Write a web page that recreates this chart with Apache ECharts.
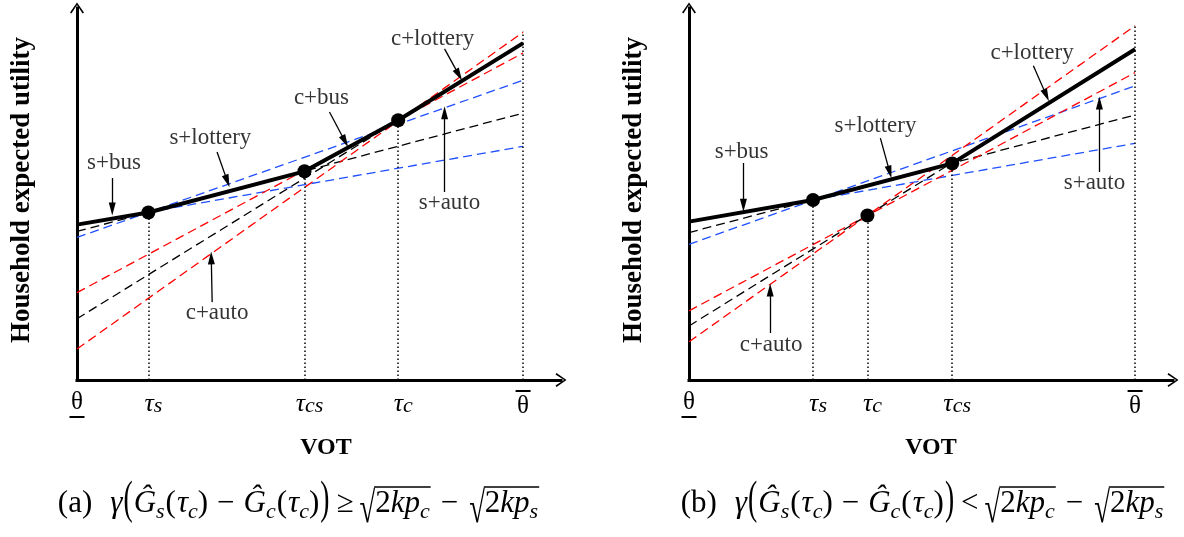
<!DOCTYPE html>
<html>
<head>
<meta charset="utf-8">
<script src="https://cdn.jsdelivr.net/npm/echarts@6/dist/echarts.min.js"></script>
<style>html,body{margin:0;padding:0;background:#fff}#main{width:1184px;height:537px}</style>
</head>
<body>
<div id="main"></div>
<script>
var FONT = '"Liberation Serif", "Times New Roman", serif';
var RED = '#ff0000', BLUE = '#1f4fff', BLACK = '#000000';

// utility of each option at θ (x=0) and at θ‾ (x=100)
var optionNames = ['s+bus', 's+lottery', 's+auto', 'c+bus', 'c+lottery', 'c+auto'];
var optionColors = [BLUE, BLACK, BLUE, RED, BLACK, RED];
var startA = [41.1, 39.3, 37.7, 23.1, 16.2, 8.2];
var endA = [61.8, 70.6, 79.3, 86.5, 89.1, 92.0];
var startB = [41.9, 39.0, 35.9, 18.3, 14.3, 10.1];
var endB = [62.6, 70.1, 77.8, 81.3, 87.5, 93.7];

// upper envelope (thick line)
var envXA = [0, 16, 51, 72, 100];
var envYA = [41.1, 44.3, 55.2, 68.7, 89.1];
var envXB = [0, 27.8, 59, 100];
var envYB = [41.9, 47.6, 57.3, 87.5];

// switching points
var dotXA = [16, 51, 72];
var dotYA = [44.3, 55.2, 68.7];
var dotXB = [27.8, 40, 59];
var dotYB = [47.6, 43.5, 57.3];
var topThetaA = 92.1, topThetaB = 93.9;

// x ticks
var tickXA = [0, 16, 51, 72, 100];
var tickLabelA = ['{th|θ}\n{bar| }', '{t|τ}{sub|s}', '{t|τ}{sub|cs}', '{t|τ}{sub|c}', '{bar| }\n{th|θ}'];
var tickXB = [0, 27.8, 40, 59, 100];
var tickLabelB = ['{th|θ}\n{bar| }', '{t|τ}{sub|s}', '{t|τ}{sub|c}', '{t|τ}{sub|cs}', '{bar| }\n{th|θ}'];

// annotations
var noteNamesA = ['s+bus', 's+lottery', 'c+bus', 'c+lottery', 's+auto', 'c+auto'];
var noteXA = [8.3, 29.9, 54.8, 79.7, 83.5, 31.4];
var noteYA = [57.4, 64.0, 74.6, 90.2, 46.8, 17.7];
var arrowFromA = [[7.9, 53.4], [31.4, 60.3], [56.6, 70.9], [82.4, 87.6], [82.4, 49.7], [30.3, 20.6]];
var arrowToA = [[7.9, 45.2], [33.7, 52.6], [60.1, 63.1], [85.6, 80.7], [82.4, 70.7], [30.1, 32.3]];
var noteNamesB = ['s+bus', 's+lottery', 'c+lottery', 's+auto', 'c+auto'];
var noteXB = [11.8, 41.8, 76.9, 90.9, 18.4];
var noteYB = [60.3, 67.2, 86.4, 52.1, 9.3];
var arrowFromB = [[12.2, 57.4], [42.9, 64.0], [77.2, 83.1], [92.0, 55.0], [18.2, 12.4]];
var arrowToB = [[12.2, 46.2], [45.0, 55.0], [80.1, 75.3], [92.0, 73.3], [18.2, 23.8]];

var AXIS_ARROW = 'path://M0,10 L7,0 L14,10 L12.6,11 L7,2.4 L1.4,11 Z';
// narrow triangle inside a square box (empty sub-paths keep the box square)
var NOTE_ARROW = 'path://M0,13 L0,13 M13,0 L13,0 M6.5,0 L10,13 L3,13 Z';

var tickRich = {
    t: { fontFamily: FONT, fontStyle: 'italic', fontSize: 26, lineHeight: 28, verticalAlign: 'bottom', color: BLACK, padding: [0, 0, 0, 10] },
    sub: { fontFamily: FONT, fontStyle: 'italic', fontSize: 22, lineHeight: 9, verticalAlign: 'bottom', color: BLACK },
    th: { fontFamily: FONT, fontSize: 25, lineHeight: 26, color: BLACK },
    bar: { width: 15, height: 2, lineHeight: 4, fontSize: 2, backgroundColor: BLACK }
};

function xAxisFor(i, ticks, labels, namePad) {
    return {
        type: 'value', gridIndex: i, min: 0, max: 108.5,
        name: 'VOT', nameLocation: 'middle', nameGap: 56,
        nameTextStyle: { fontFamily: FONT, fontSize: 24, fontWeight: 'bold', color: BLACK, padding: namePad },
        axisLine: { lineStyle: { color: BLACK, width: 3, cap: 'square' }, symbol: ['none', AXIS_ARROW], symbolSize: [14, 11] },
        axisTick: { show: false },
        splitLine: { show: false },
        axisLabel: {
            customValues: ticks, margin: 9, rich: tickRich,
            formatter: function (v) {
                var best = 0;
                for (var k = 1; k < ticks.length; k++) {
                    if (Math.abs(ticks[k] - v) < Math.abs(ticks[best] - v)) best = k;
                }
                return labels[best];
            }
        }
    };
}

function yAxisFor(i) {
    return {
        type: 'value', gridIndex: i, min: 0, max: 98.4,
        name: 'Household expected utility', nameLocation: 'middle', nameGap: 41, nameRotate: 90,
        nameTextStyle: { fontFamily: FONT, fontSize: 27, fontWeight: 'bold', color: BLACK, padding: [0, 0, 0, 8] },
        axisLine: { lineStyle: { color: BLACK, width: 3, cap: 'square' }, symbol: ['none', AXIS_ARROW], symbolSize: [14, 11] },
        axisTick: { show: false },
        axisLabel: { show: false },
        splitLine: { show: false }
    };
}

function panelSeries(i, p) {
    var dashed = optionNames.map(function (n, k) {
        return { name: n, coords: [[0, p.start[k]], [100, p.end[k]]], lineStyle: { color: optionColors[k] } };
    });
    var guides = p.dotX.map(function (x, k) {
        return { coords: [[x, 0], [x, p.dotY[k]]] };
    });
    guides.push({ coords: [[100, 0], [100, p.top]] });
    var arrows = p.from.map(function (f, k) {
        return { coords: [f, p.to[k]] };
    });
    var notes = p.names.map(function (n, k) {
        return { name: n, value: [p.noteX[k], p.noteY[k]] };
    });
    var base = { xAxisIndex: i, yAxisIndex: i, silent: true };
    return [
        Object.assign({ type: 'lines', coordinateSystem: 'cartesian2d', z: 2,
            lineStyle: { width: 1.3, type: [9, 5], opacity: 1 }, data: dashed }, base),
        Object.assign({ type: 'lines', coordinateSystem: 'cartesian2d', z: 3,
            lineStyle: { color: BLACK, width: 1.5, type: [1.5, 2.5], opacity: 1 }, data: guides }, base),
        Object.assign({ type: 'line', z: 4, symbol: 'none',
            lineStyle: { color: BLACK, width: 4 },
            data: p.envX.map(function (x, k) { return [x, p.envY[k]]; }) }, base),
        Object.assign({ type: 'scatter', z: 5, symbolSize: 14, itemStyle: { color: BLACK, opacity: 1 },
            data: p.dotX.map(function (x, k) { return [x, p.dotY[k]]; }) }, base),
        Object.assign({ type: 'lines', coordinateSystem: 'cartesian2d', z: 6,
            symbol: ['none', NOTE_ARROW], symbolSize: 13,
            lineStyle: { color: BLACK, width: 1.3, opacity: 1 }, data: arrows }, base),
        Object.assign({ type: 'scatter', z: 7, symbolSize: 1, itemStyle: { color: 'rgba(0,0,0,0)' },
            label: { show: true, position: 'inside', formatter: '{b}', fontFamily: FONT, fontSize: 23, color: BLACK },
            data: notes }, base)
    ];
}

// caption formulas, laid out piece by piece
var measureCtx = document.createElement('canvas').getContext('2d');
function seg(t, o) { return Object.assign({ t: t }, o || {}); }
function formulaSegments(tag, rel) {
    return [
        seg(tag), seg('', { gap: 18 }),
        seg('γ', { it: 1 }), seg('(', { big: 1, pad: 1 }), seg('Ĝ', { it: 1 }), seg('s', { sub: 1 }),
        seg('(', { pad: 1 }), seg('τ', { it: 1 }), seg('c', { sub: 1 }), seg(')'),
        seg('−', { pad: 9 }),
        seg('Ĝ', { it: 1 }), seg('c', { sub: 1 }), seg('(', { pad: 1 }), seg('τ', { it: 1 }), seg('c', { sub: 1 }), seg(')'),
        seg(')', { big: 1, pad: 1 }),
        seg(rel, { pad: 6 }),
        seg('√', { rad: 1 }), seg('2', { ov: 1 }), seg('kp', { it: 1, ov: 1 }), seg('c', { sub: 1, ov: 1 }),
        seg('−', { pad: 11 }),
        seg('√', { rad: 1 }), seg('2', { ov: 1 }), seg('kp', { it: 1, ov: 1 }), seg('s', { sub: 1, ov: 1 })
    ];
}
function buildFormula(segs, cx, cy) {
    var items = segs.map(function (s) {
        var size = s.sub ? 22 : s.big ? 46 : s.rad ? 44 : 31;
        var font = (s.it || s.sub ? 'italic ' : '') + size + 'px ' + FONT;
        var sx = s.big ? 0.6 : s.rad ? 0.65 : 1;
        measureCtx.font = font;
        var w = measureCtx.measureText(s.t).width * sx;
        return { s: s, font: font, sx: sx, w: w + (s.gap || 0) + 2 * (s.pad || 0) };
    });
    var total = items.reduce(function (a, b) { return a + b.w; }, 0);
    var x = cx - total / 2;
    var els = [];
    var ovStart = null, ovEnd = null;
    function flush() {
        if (ovStart !== null) {
            els.push({ type: 'line', shape: { x1: ovStart - 1, y1: cy - 17, x2: ovEnd + 1, y2: cy - 17 },
                style: { stroke: BLACK, lineWidth: 1.3 } });
            ovStart = null;
        }
    }
    items.forEach(function (it) {
        var s = it.s;
        if (s.t) {
            els.push({
                type: 'text', x: x + (s.pad || 0) + (s.gap || 0),
                y: cy + (s.sub ? 8 : s.big ? -2.6 : s.rad ? 6 : 0), scaleX: it.sx,
                style: { text: s.t, font: it.font, fill: BLACK, align: 'left', verticalAlign: 'middle',
                    textAlign: 'left', textVerticalAlign: 'middle' }
            });
        }
        if (s.ov) {
            if (ovStart === null) ovStart = x;
            ovEnd = x + it.w;
        } else {
            flush();
        }
        x += it.w;
    });
    flush();
    return els;
}

var chart = echarts.init(document.getElementById('main'));
var option = {
    animation: false,
    grid: [
        { left: 77, top: 8, width: 484, height: 372, outerBoundsMode: 'none' },
        { left: 689, top: 8, width: 484, height: 372, outerBoundsMode: 'none' }
    ],
    xAxis: [xAxisFor(0, tickXA, tickLabelA, [0, 0, 0, 14]), xAxisFor(1, tickXB, tickLabelB, [0, 0, 0, 0])],
    yAxis: [yAxisFor(0), yAxisFor(1)],
    series: panelSeries(0, {
        start: startA, end: endA, envX: envXA, envY: envYA, dotX: dotXA, dotY: dotYA, top: topThetaA,
        from: arrowFromA, to: arrowToA, names: noteNamesA, noteX: noteXA, noteY: noteYA
    }).concat(panelSeries(1, {
        start: startB, end: endB, envX: envXB, envY: envYB, dotX: dotXB, dotY: dotYB, top: topThetaB,
        from: arrowFromB, to: arrowToB, names: noteNamesB, noteX: noteXB, noteY: noteYB
    })),
    graphic: buildFormula(formulaSegments('(a)', '≥'), 298, 504)
        .concat(buildFormula(formulaSegments('(b)', '<'), 922, 504))
};
chart.setOption(option);
</script>
</body>
</html>
